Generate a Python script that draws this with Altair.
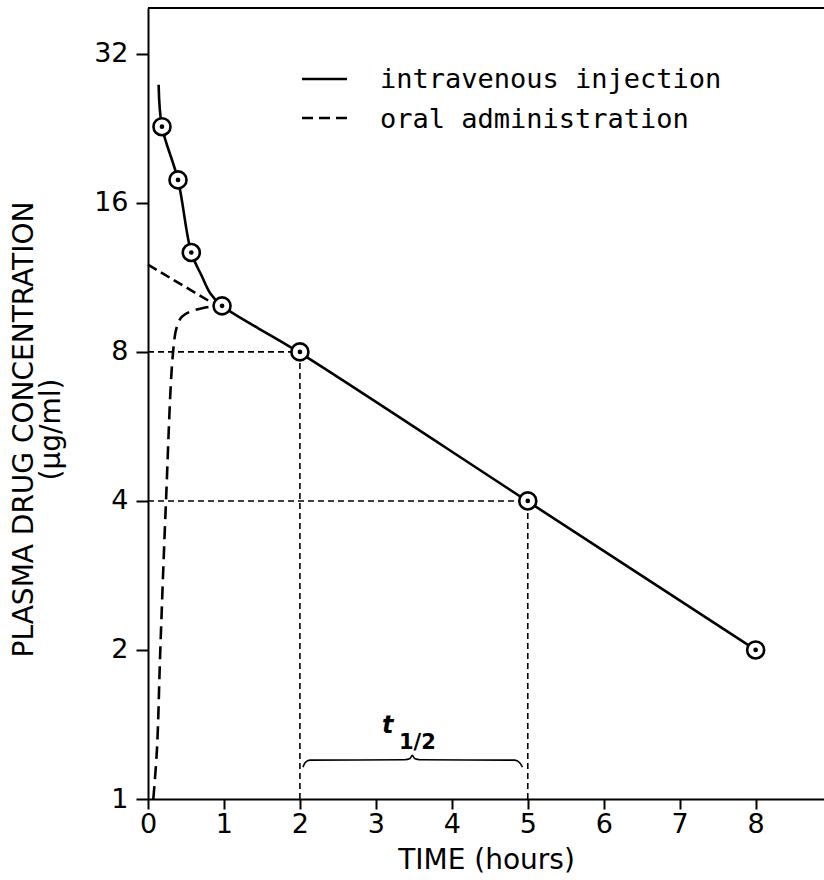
import altair as alt
import pandas as pd

# ---- data ----
iv_t = [0.14, 0.184, 0.395, 0.570, 0.711, 0.821, 0.975, 1.98, 4.99, 8.0]
iv_c = [27.7, 22.8, 17.8, 12.7, 11.36, 10.5, 9.91, 8.0, 4.0, 2.0]
obs_t = [0.184, 0.395, 0.570, 0.975, 2.0, 5.0, 8.0]
obs_c = [22.8, 17.8, 12.7, 9.91, 8.0, 4.0, 2.0]
oral_t = [0.07, 0.118, 0.162, 0.237, 0.327, 0.38, 0.448, 0.557, 0.711, 0.843, 0.975]
oral_c = [1.0, 1.26, 2.0, 4.0, 7.9, 9.0, 9.43, 9.65, 9.8, 9.88, 9.91]
extrap_t = [0.0, 0.82]
extrap_c = [12.0, 10.1]
guide_h_c = [8.0, 4.0]
guide_h_t_end = [2.0, 5.0]
guide_v_t = [2.0, 5.0]
guide_v_c_end = [8.0, 4.0]
brace_t = [2.04, 2.07, 2.13, 3.38, 3.45, 3.48, 3.51, 3.58, 4.83, 4.89, 4.93]
brace_c = [1.16, 1.185, 1.198, 1.2, 1.207, 1.225, 1.207, 1.2, 1.198, 1.185, 1.16]
x_ticks = [0, 1, 2, 3, 4, 5, 6, 7, 8]
y_ticks = [1, 2, 4, 8, 16, 32]
legend_labels = ["intravenous injection", "oral administration"]
x_domain = [0, 8.9]
y_domain = [1, 39.6]

FONT = "DejaVu Sans"
W, H = 676, 791

xenc = alt.X("t:Q", scale=alt.Scale(domain=x_domain, nice=False, zero=False),
             axis=alt.Axis(values=x_ticks, title="TIME (hours)", grid=False,
                           tickSize=10, tickWidth=2, domainWidth=2,
                           domainColor="black", tickColor="black",
                           labelColor="black", labelFont=FONT, labelFontSize=27,
                           labelPadding=2, labelFlush=False,
                           titleFont=FONT, titleFontSize=28, titleFontWeight="normal",
                           titleColor="black", titleY=69, titleBaseline="alphabetic"))
yenc = alt.Y("c:Q", scale=alt.Scale(type="log", base=2, domain=y_domain, nice=False),
             axis=alt.Axis(values=y_ticks, format="d", grid=False,
                           title=["PLASMA DRUG CONCENTRATION", "(\u03bcg/ml)"],
                           tickSize=12, tickWidth=2, domainWidth=2,
                           domainColor="black", tickColor="black",
                           labelColor="black", labelFont=FONT, labelFontSize=27,
                           labelPadding=8, labelFlush=False,
                           titleFont=FONT, titleFontSize=28, titleFontWeight="normal",
                           titleColor="black", titleX=-116, titleY=421,
                           titleBaseline="alphabetic", titleLineHeight=27))


def df(t, c):
    return pd.DataFrame({"t": t, "c": c})


iv = alt.Chart(df(iv_t, iv_c)).mark_line(
    color="black", strokeWidth=2.6, interpolate="catmull-rom", clip=True).encode(x=xenc, y=yenc)
oral = alt.Chart(df(oral_t, oral_c)).mark_line(
    color="black", strokeWidth=2.6, strokeDash=[13, 7], interpolate="catmull-rom",
    clip=True).encode(x=xenc, y=yenc)
extrap = alt.Chart(df(extrap_t, extrap_c)).mark_line(
    color="black", strokeWidth=2.6, strokeDash=[10, 5]).encode(x=xenc, y=yenc)

gh = pd.DataFrame({"t": [0.0, 0.0], "t2": guide_h_t_end, "c": guide_h_c})
guide_h = alt.Chart(gh).mark_rule(color="black", strokeWidth=1.6, strokeDash=[6, 4]).encode(
    x=xenc, x2="t2:Q", y=yenc)
gv = pd.DataFrame({"t": guide_v_t, "c": [1.0, 1.0], "c2": guide_v_c_end})
guide_v = alt.Chart(gv).mark_rule(color="black", strokeWidth=1.6, strokeDash=[6, 4]).encode(
    x=xenc, y=yenc, y2="c2:Q")

brace = alt.Chart(df(brace_t, brace_c)).mark_line(
    color="black", strokeWidth=1.6, interpolate="monotone").encode(x=xenc, y=yenc)

top = alt.Chart(pd.DataFrame({"t": [x_domain[0]], "t2": [x_domain[1]], "c": [y_domain[1]]})).mark_rule(
    color="black", strokeWidth=2).encode(x=xenc, x2="t2:Q", y=yenc)

obs = df(obs_t, obs_c)
rings = alt.Chart(obs).mark_point(shape="circle", filled=True, fill="white", stroke="black",
                                  size=290, strokeWidth=2.6, opacity=1).encode(x=xenc, y=yenc)
dots = alt.Chart(obs).mark_point(shape="circle", filled=True, color="black",
                                 size=22, opacity=1).encode(x=xenc, y=yenc)

# legend (manual, drawn in pixel space of the plot)
one = pd.DataFrame({"k": [0]})
leg_solid = alt.Chart(one).mark_rule(color="black", strokeWidth=2.5).encode(
    x=alt.value(154), x2=alt.value(199), y=alt.value(71))
leg_dash = alt.Chart(one).mark_rule(color="black", strokeWidth=2.5, strokeDash=[11, 6]).encode(
    x=alt.value(154), x2=alt.value(199), y=alt.value(110))
leg_t1 = alt.Chart(pd.DataFrame({"label": [legend_labels[0]]})).mark_text(
    font="DejaVu Sans Mono", fontSize=27, align="left", baseline="alphabetic", color="black").encode(
    x=alt.value(232), y=alt.value(80), text="label:N")
leg_t2 = alt.Chart(pd.DataFrame({"label": [legend_labels[1]]})).mark_text(
    font="DejaVu Sans Mono", fontSize=27, align="left", baseline="alphabetic", color="black").encode(
    x=alt.value(232), y=alt.value(120), text="label:N")

half_t = alt.Chart(pd.DataFrame({"label": ["t"]})).mark_text(
    font=FONT, fontSize=24, fontStyle="italic", fontWeight="bold", align="left",
    baseline="alphabetic", color="black").encode(x=alt.value(234), y=alt.value(725), text="label:N")
half_s = alt.Chart(pd.DataFrame({"label": ["1/2"]})).mark_text(
    font=FONT, fontSize=21, fontWeight="bold", align="left", baseline="alphabetic",
    color="black").encode(x=alt.value(251), y=alt.value(741), text="label:N")

chart = alt.layer(
    top, guide_h, guide_v, extrap, oral, iv, brace, rings, dots,
    leg_solid, leg_dash, leg_t1, leg_t2, half_t, half_s
).properties(
    width=W, height=H,
    autosize=alt.AutoSizeParams(type="none"),
    padding={"left": 148, "top": 8, "right": 0, "bottom": 81},
    background="white",
).configure_view(stroke=None)

chart.save("out.html", embed_options={"renderer": "svg", "actions": False})
